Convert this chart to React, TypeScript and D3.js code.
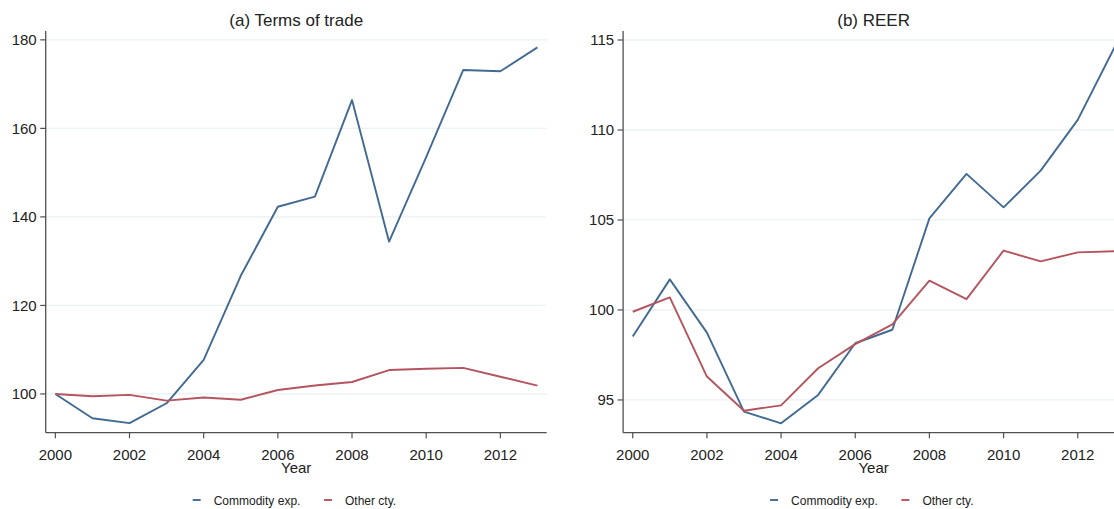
import * as d3 from "d3";

const years = [2000, 2001, 2002, 2003, 2004, 2005, 2006, 2007, 2008, 2009, 2010, 2011, 2012, 2013];
const xTicks = [2000, 2002, 2004, 2006, 2008, 2010, 2012];

const totCommodity = [100, 94.5, 93.4, 97.9, 107.7, 126.7, 142.3, 144.6, 166.4, 134.4, 153.5, 173.2, 172.9, 178.3];
const totOther = [100, 99.5, 99.8, 98.5, 99.2, 98.7, 100.9, 101.9, 102.7, 105.4, 105.7, 105.9, 103.9, 101.9];
const reerCommodity = [98.52, 101.7, 98.74, 94.35, 93.7, 95.28, 98.15, 98.9, 105.09, 107.56, 105.7, 107.74, 110.56, 114.63];
const reerOther = [99.9, 100.7, 96.3, 94.4, 94.7, 96.76, 98.1, 99.2, 101.63, 100.6, 103.3, 102.7, 103.2, 103.26];

const totTicks = [100, 120, 140, 160, 180];
const reerTicks = [95, 100, 105, 110, 115];

const seriesNames = ["Commodity exp.", "Other cty."];
const seriesColors = ["#416a93", "#b4545e"];

const panels = [
  { title: "(a) Terms of trade", ticks: totTicks, domain: [91.25, 182.0], series: [totCommodity, totOther] },
  { title: "(b) REER", ticks: reerTicks, domain: [93.18, 115.5], series: [reerCommodity, reerOther] },
];

const W = 1114;
const H = 509;
const panelShift = 577.4;
const plot = { left: 45.7, right: 546.7, top: 31, bottom: 432.7 };
const font = "'Liberation Sans', Arial, sans-serif";

function Panel({ p, offset }: { p: (typeof panels)[number]; offset: number }) {
  const x = d3.scaleLinear().domain([1999.74, 2013.25]).range([plot.left + offset, plot.right + offset]);
  const y = d3.scaleLinear().domain(p.domain).range([plot.bottom, plot.top]);
  const line = d3
    .line<number>()
    .x((_, i) => x(years[i]))
    .y((d) => y(d));
  const cx = (plot.left + plot.right) / 2 + offset;

  return (
    <g>
      {p.ticks.map((t) => (
        <line key={"g" + t} x1={x.range()[0]} x2={x.range()[1]} y1={y(t)} y2={y(t)} stroke="#eaf2f4" strokeWidth={1.3} />
      ))}
      {p.series.map((s, i) => (
        <path key={i} d={line(s) ?? ""} fill="none" stroke={seriesColors[i]} strokeWidth={1.9} strokeLinejoin="round" />
      ))}
      {/* y axis */}
      <line x1={x.range()[0]} x2={x.range()[0]} y1={plot.top} y2={plot.bottom} stroke="#505050" strokeWidth={1.3} />
      {p.ticks.map((t) => (
        <g key={"y" + t}>
          <line x1={x.range()[0] - 5.5} x2={x.range()[0]} y1={y(t)} y2={y(t)} stroke="#505050" strokeWidth={1.2} />
          <text x={x.range()[0] - 9} y={y(t)} dy="0.35em" textAnchor="end" fontSize={15} fill="#222">
            {t}
          </text>
        </g>
      ))}
      {/* x axis */}
      <line x1={x.range()[0]} x2={x.range()[1]} y1={plot.bottom} y2={plot.bottom} stroke="#505050" strokeWidth={1.3} />
      {xTicks.map((t) => (
        <g key={"x" + t}>
          <line x1={x(t)} x2={x(t)} y1={plot.bottom} y2={plot.bottom + 5.5} stroke="#505050" strokeWidth={1.2} />
          <text x={x(t)} y={459.5} textAnchor="middle" fontSize={15} fill="#222">
            {t}
          </text>
        </g>
      ))}
      <text x={cx} y={473} textAnchor="middle" fontSize={15} fill="#222">
        Year
      </text>
      <text x={cx} y={26} textAnchor="middle" fontSize={17} fill="#222">
        {p.title}
      </text>
      {/* legend */}
      {seriesNames.map((n, i) => {
        const lx = cx + (i === 0 ? -103.5 : 27.8);
        return (
          <g key={n}>
            <line x1={lx} x2={lx + 8} y1={500} y2={500} stroke={seriesColors[i]} strokeWidth={1.9} />
            <text x={lx + 21} y={504.5} fontSize={12} fill="#222">
              {n}
            </text>
          </g>
        );
      })}
    </g>
  );
}

export default function App() {
  return (
    <>
      <style>{"body{margin:0;overflow:hidden;background:#fff}"}</style>
      <svg width={W} height={H} style={{ display: "block", fontFamily: font }}>
        <rect width={W} height={H} fill="#fff" />
        {panels.map((p, i) => (
          <Panel key={i} p={p} offset={i * panelShift} />
        ))}
      </svg>
    </>
  );
}
